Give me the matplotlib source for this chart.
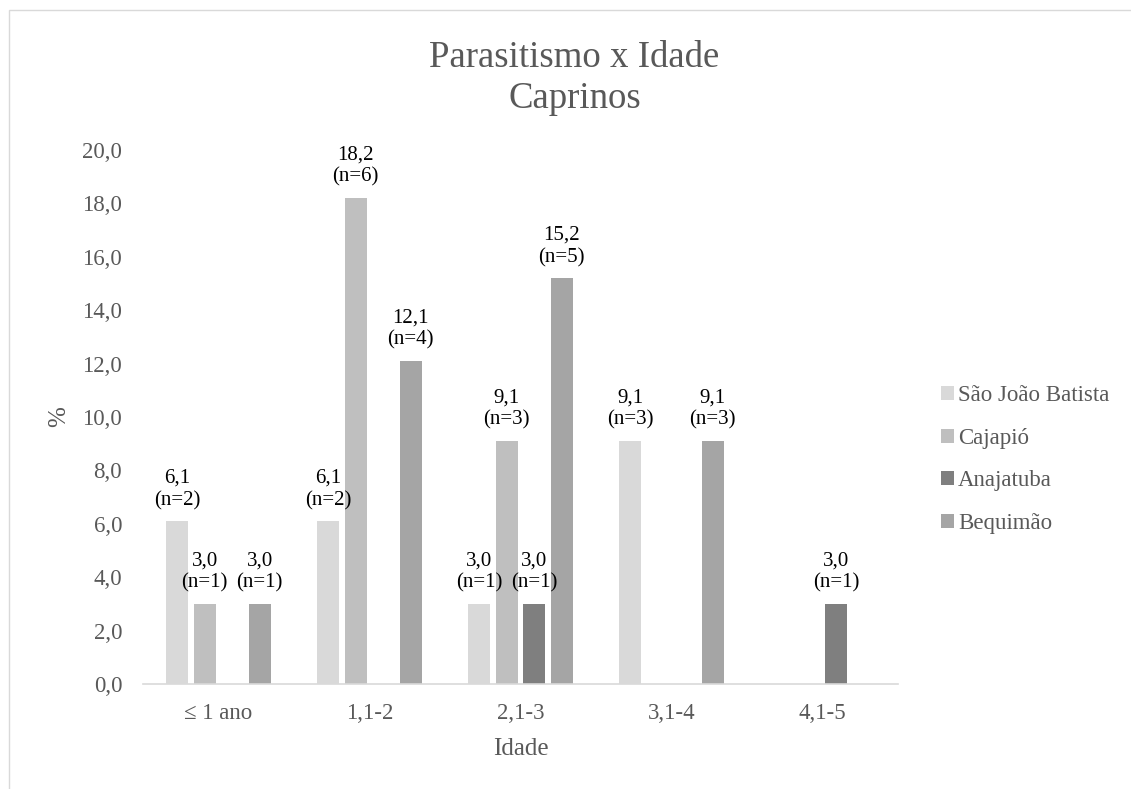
import numpy as np
import matplotlib.pyplot as plt
from matplotlib.patches import Rectangle

plt.rcParams['font.family'] = ['Liberation Serif', 'DejaVu Serif']

# dados
idades = ['≤ 1 ano', '1,1-2', '2,1-3', '3,1-4', '4,1-5']
municipios = ['São João Batista', 'Cajapió', 'Anajatuba', 'Bequimão']
sao_joao = [6.1, 6.1, 3.0, 9.1, 0]
cajapio = [3.0, 18.2, 9.1, 0, 0]
anajatuba = [0, 0, 3.0, 0, 3.0]
bequimao = [3.0, 12.1, 15.2, 9.1, 0]
n_sao_joao = [2, 2, 1, 3, 0]
n_cajapio = [1, 6, 3, 0, 0]
n_anajatuba = [0, 0, 1, 0, 1]
n_bequimao = [1, 4, 5, 3, 0]

series = [sao_joao, cajapio, anajatuba, bequimao]
contagens = [n_sao_joao, n_cajapio, n_anajatuba, n_bequimao]
cores = ['#d9d9d9', '#bfbfbf', '#7f7f7f', '#a5a5a5']
cinza = '#595959'

fig = plt.figure(figsize=(11.31, 7.89), dpi=100)
ax = fig.add_axes([0.1264, 0.1331, 0.6676, 0.6768])

x = np.arange(len(idades))
passo = 0.182
largura = 0.146
for i, (vals, ns) in enumerate(zip(series, contagens)):
    pos = x + (i - 1.5) * passo
    ax.bar(pos, vals, largura, color=cores[i], label=municipios[i])
    for p, v, n in zip(pos, vals, ns):
        if v > 0:
            ax.annotate(f'{v:.1f}'.replace('.', ',') + f'\n(n={n})', (p, v),
                        xytext=(0, 8), textcoords='offset points',
                        ha='center', va='bottom', fontsize=15,
                        linespacing=1.2, color='black')

ax.set_xlim(-0.5, len(idades) - 0.5)
ax.set_ylim(0, 20)
ax.set_yticks(np.arange(0, 21, 2))
ax.set_yticklabels([f'{t:.1f}'.replace('.', ',') for t in np.arange(0, 21, 2)])
ax.set_xticks(x)
ax.set_xticklabels(idades)
ax.tick_params(axis='both', length=0, labelsize=16.5, labelcolor=cinza)
ax.tick_params(axis='y', pad=15)
ax.tick_params(axis='x', pad=13.5)

for s in ['top', 'right', 'left']:
    ax.spines[s].set_visible(False)
ax.spines['bottom'].set_color('#d9d9d9')
ax.spines['bottom'].set_linewidth(1.2)

ax.set_xlabel('Idade', fontsize=18, color=cinza, labelpad=10)
ax.set_ylabel('%', fontsize=18, color=cinza, labelpad=9)

# baseline da última linha do título
fig.text(0.508, 1 - 108 / 789, 'Parasitismo x Idade\nCaprinos', fontsize=26.5,
         color=cinza, ha='center', va='baseline', linespacing=1.23)

leg = ax.legend(loc='center left', bbox_to_anchor=(1.057, 0.42), frameon=False,
                fontsize=16.5, handlelength=0.57, handleheight=0.55,
                handletextpad=0.18, labelspacing=0.94, borderpad=0,
                borderaxespad=0)
for t in leg.get_texts():
    t.set_color(cinza)

fig.add_artist(Rectangle((9 / 1131, -0.02), 1.05, 1 - 10 / 789 + 0.02,
                         transform=fig.transFigure, fill=False,
                         edgecolor='#d9d9d9', linewidth=1))

fig.savefig('out.png', dpi=100)
